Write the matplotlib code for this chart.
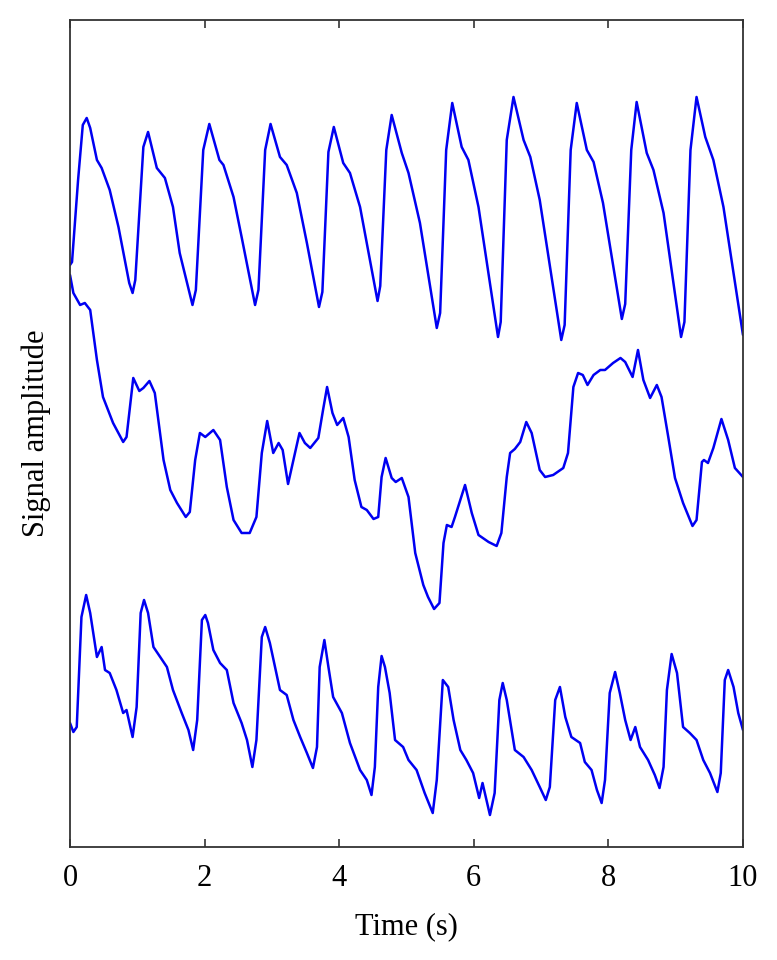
import numpy as np
import matplotlib
matplotlib.use("Agg")
import matplotlib.pyplot as plt

## donnees : temps en s, amplitude en unites arbitraires
t1 = [0.00, 0.03, 0.12, 0.19, 0.248, 0.30, 0.40, 0.47, 0.59, 0.72, 0.88, 0.93, 0.97, 1.09, 1.16, 1.29, 1.41, 1.53, 1.63,
      1.82, 1.87, 1.98, 2.07, 2.22, 2.28, 2.43, 2.55, 2.75, 2.80, 2.90, 2.98, 3.12, 3.22, 3.37, 3.52, 3.70, 3.75, 3.84,
      3.92, 4.06, 4.16, 4.31, 4.57, 4.61, 4.70, 4.78, 4.93, 5.03, 5.20, 5.45, 5.50, 5.59, 5.68, 5.82, 5.92, 6.07, 6.36,
      6.40, 6.49, 6.59, 6.74, 6.84, 6.98, 7.30, 7.35, 7.44, 7.53, 7.68, 7.78, 7.92, 8.20, 8.25, 8.34, 8.42, 8.57, 8.67,
      8.82, 9.08, 9.13, 9.22, 9.31, 9.44, 9.56, 9.71, 10.0]
a1 = [582, 585, 667, 722, 729, 719, 687, 679, 657, 620, 564, 554, 567, 700, 715, 679, 669, 640, 594,
      542, 557, 697, 723, 687, 682, 650, 610, 542, 557, 697, 723, 690, 682, 654, 604, 540, 555, 695,
      720, 684, 674, 640, 546, 561, 697, 732, 694, 674, 624, 519, 534, 697, 744, 700, 687, 640, 510,
      525, 707, 750, 707, 690, 647, 507, 522, 697, 744, 697, 685, 644, 528, 543, 697, 745, 694, 677,
      634, 510, 525, 697, 750, 710, 687, 640, 512]

t2 = [0.00, 0.05, 0.15, 0.22, 0.30, 0.40, 0.49, 0.64, 0.79, 0.84, 0.94, 1.03, 1.09, 1.18, 1.26, 1.39, 1.49, 1.59, 1.72,
      1.78, 1.86, 1.93, 2.01, 2.13, 2.23, 2.33, 2.43, 2.55, 2.67, 2.77, 2.85, 2.93, 3.02, 3.10, 3.16, 3.24, 3.32, 3.41,
      3.49, 3.57, 3.69, 3.76, 3.82, 3.90, 3.97, 4.06, 4.14, 4.23, 4.33, 4.41, 4.51, 4.58, 4.63, 4.69, 4.78, 4.84, 4.93,
      5.03, 5.13, 5.25, 5.32, 5.41, 5.49, 5.55, 5.60, 5.67, 5.72, 5.87, 5.97, 6.07, 6.22, 6.34, 6.41, 6.49, 6.54, 6.61,
      6.69, 6.78, 6.86, 6.98, 7.06, 7.18, 7.33, 7.40, 7.48, 7.55, 7.62, 7.69, 7.78, 7.88, 7.95, 8.07, 8.18, 8.25, 8.36,
      8.44, 8.52, 8.62, 8.72, 8.79, 8.89, 8.99, 9.11, 9.25, 9.31, 9.39, 9.42, 9.48, 9.56, 9.68, 9.78, 9.88, 10.0]
a2 = [572, 554, 542, 544, 537, 487, 450, 424, 405, 410, 469, 456, 459, 466, 454, 387, 357, 344, 330,
      335, 387, 414, 410, 417, 407, 360, 327, 314, 314, 330, 394, 426, 394, 404, 397, 363, 387, 414,
      404, 399, 409, 437, 460, 434, 422, 429, 410, 367, 340, 337, 328, 330, 370, 389, 369, 365, 369,
      350, 294, 262, 250, 238, 244, 304, 322, 320, 330, 362, 334, 312, 305, 301, 314, 370, 394, 398,
      405, 425, 414, 377, 370, 372, 379, 394, 460, 474, 472, 462, 472, 477, 477, 484, 489, 485, 470,
      497, 467, 449, 462, 450, 410, 369, 344, 321, 327, 385, 387, 384, 399, 428, 407, 379, 370]

t3 = [0.00, 0.05, 0.10, 0.17, 0.24, 0.30, 0.40, 0.47, 0.52, 0.59, 0.69, 0.79, 0.84, 0.93, 0.99, 1.05, 1.10, 1.16, 1.24,
      1.34, 1.44, 1.53, 1.66, 1.76, 1.83, 1.89, 1.96, 2.01, 2.05, 2.13, 2.23, 2.33, 2.43, 2.55, 2.63, 2.71, 2.77, 2.85,
      2.90, 2.97, 3.12, 3.22, 3.32, 3.42, 3.52, 3.61, 3.67, 3.71, 3.78, 3.84, 3.91, 4.04, 4.16, 4.31, 4.41, 4.48, 4.53,
      4.58, 4.63, 4.68, 4.75, 4.83, 4.95, 5.03, 5.15, 5.27, 5.39, 5.45, 5.54, 5.62, 5.70, 5.80, 5.89, 5.99, 6.08, 6.13,
      6.24, 6.31, 6.38, 6.43, 6.49, 6.61, 6.74, 6.86, 6.98, 7.07, 7.13, 7.21, 7.28, 7.36, 7.45, 7.58, 7.65, 7.75, 7.83,
      7.90, 7.95, 8.02, 8.10, 8.17, 8.25, 8.33, 8.40, 8.47, 8.59, 8.69, 8.76, 8.82, 8.87, 8.94, 9.02, 9.11, 9.21, 9.31,
      9.41, 9.51, 9.62, 9.67, 9.73, 9.78, 9.86, 9.93, 10.0]
a3 = [124, 115, 120, 230, 252, 234, 190, 200, 177, 174, 157, 134, 137, 110, 140, 234, 247, 234, 200,
      190, 180, 157, 134, 117, 97, 127, 227, 232, 224, 197, 184, 177, 144, 124, 107, 80, 107, 210,
      220, 204, 157, 152, 127, 110, 94, 79, 100, 180, 207, 180, 150, 134, 104, 77, 67, 52, 80,
      160, 191, 180, 154, 107, 100, 87, 77, 54, 34, 67, 167, 160, 127, 97, 87, 74, 49, 64,
      32, 54, 147, 164, 147, 97, 90, 77, 60, 47, 60, 147, 160, 130, 110, 104, 85, 77, 57,
      44, 67, 154, 175, 154, 127, 107, 120, 100, 87, 72, 59, 80, 157, 193, 174, 120, 114, 107,
      87, 74, 55, 74, 167, 177, 160, 134, 117]

xticks = [0, 2, 4, 6, 8, 10]

##figure
plt.rcParams['font.family'] = ['Liberation Serif', 'DejaVu Serif']
fig = plt.figure(figsize=(7.77, 9.6), dpi=100)
ax = fig.add_axes([0.0901, 0.1177, 0.8661, 0.8615])

for t, a in [(t1, a1), (t2, a2), (t3, a3)]:
    ax.plot(t, a, color=(0.0, 0.0, 0.95), linewidth=1.8,
            solid_joinstyle='round', solid_capstyle='round')

ax.set_xlim(0, 10)
ax.set_ylim(0, 827)
ax.set_xticks(xticks)
ax.set_xticklabels([str(v) for v in xticks])
ax.set_yticks([])
ax.tick_params(axis='x', direction='in', top=True, length=6, width=1.2, color='#333333',
               labelsize=22, pad=12)
for s in ax.spines.values():
    s.set_color('#333333')
    s.set_linewidth(1.3)

ax.set_xlabel('Time (s)', fontsize=22, labelpad=14)
ax.set_ylabel('Signal amplitude', fontsize=22, labelpad=14)

fig.savefig('out.png', dpi=100)
